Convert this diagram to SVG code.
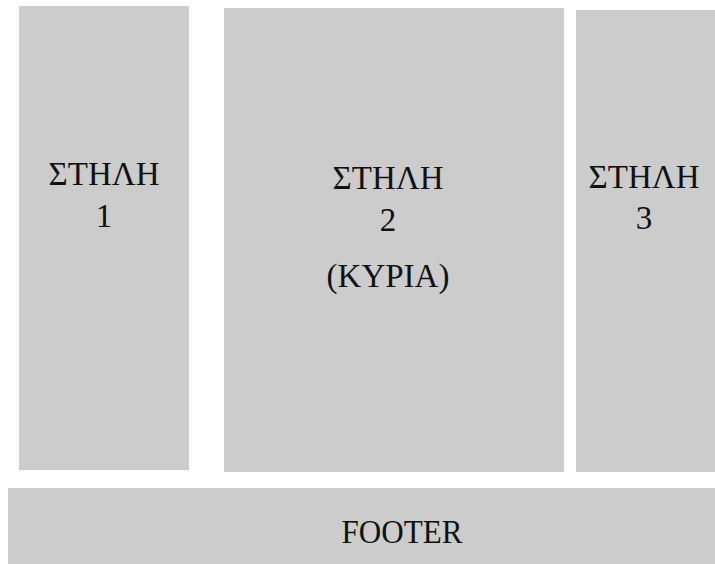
<svg xmlns="http://www.w3.org/2000/svg" width="715" height="564" viewBox="0 0 715 564">
<style>
.box{fill:#cccccc}
.t{font-family:"Liberation Serif","DejaVu Serif",serif;font-size:33px;fill:#111111;text-anchor:middle}
</style>
<rect width="715" height="564" fill="#ffffff"/>
<g id="col1"><rect class="box" x="19" y="6" width="170" height="464"/><text class="t" x="104" y="185">ΣΤΗΛΗ</text><text class="t" x="104" y="227">1</text></g>
<g id="col2"><rect class="box" x="224" y="8" width="340" height="464"/><text class="t" x="388" y="189">ΣΤΗΛΗ</text><text class="t" x="388" y="231">2</text><text class="t" x="388" y="287">(ΚΥΡΙΑ)</text></g>
<g id="col3"><rect class="box" x="576" y="10" width="139" height="462"/><text class="t" x="644" y="188">ΣΤΗΛΗ</text><text class="t" x="644" y="229">3</text></g>
<g id="footer"><rect class="box" x="8" y="488" width="707" height="76"/><text class="t" x="402" y="543" textLength="121" lengthAdjust="spacingAndGlyphs">FOOTER</text></g>
<g id="connectors"></g>
</svg>
